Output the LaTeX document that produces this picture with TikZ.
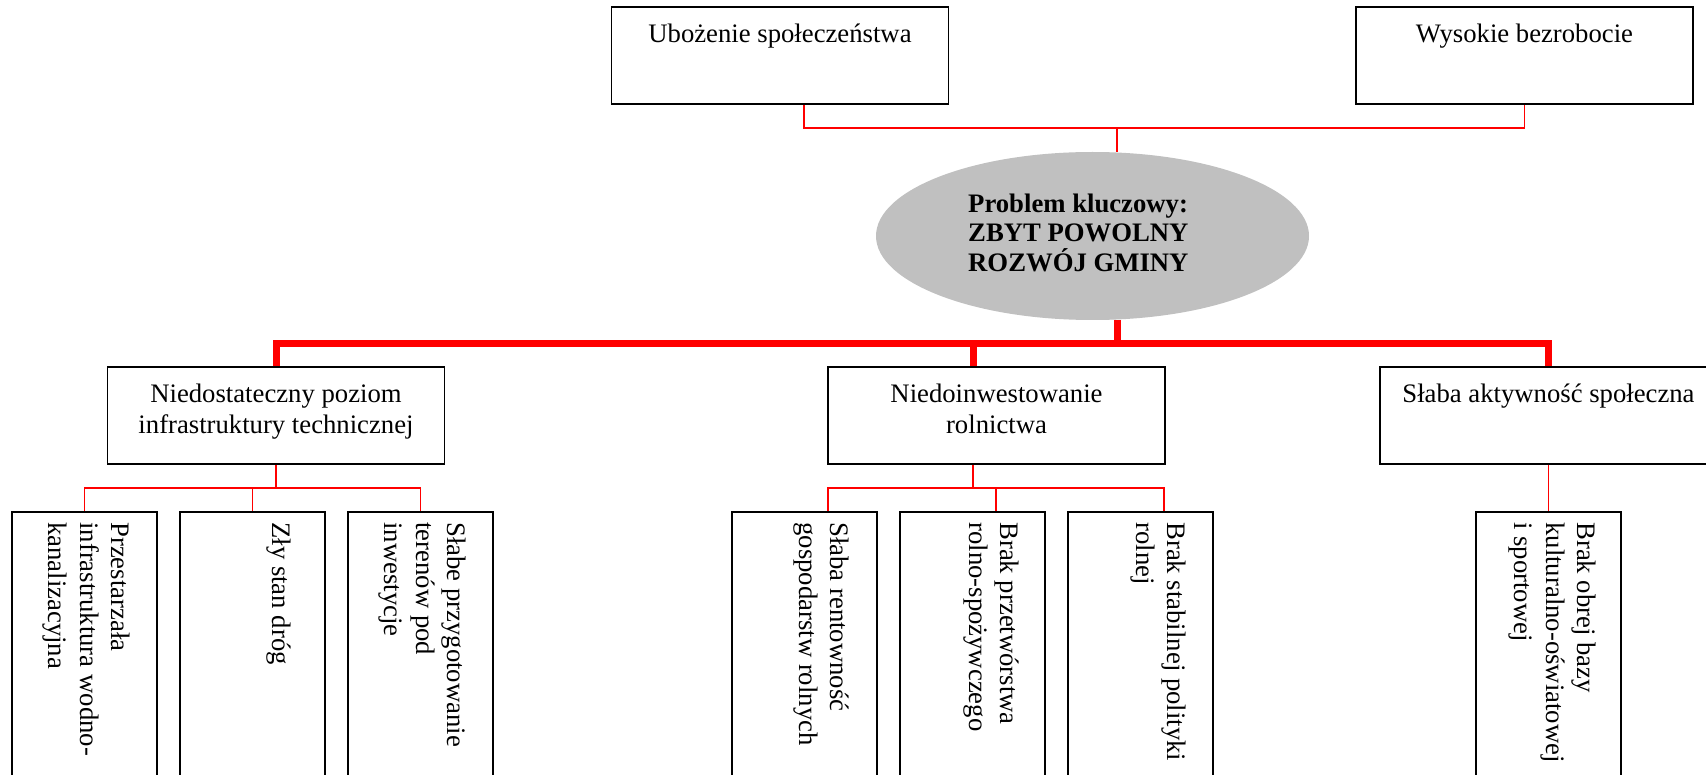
\documentclass[tikz,border=0pt]{standalone}
\usepackage{fontspec}
\setmainfont{Liberation Serif}
\usetikzlibrary{shapes.geometric}
\definecolor{keygray}{HTML}{C0C0C0}
\definecolor{lnred}{HTML}{FF0000}
\newcommand\tstr{\rule{0pt}{20pt}}
\begin{document}
\begin{tikzpicture}[x=1pt,y=-1pt,
  box/.style={draw=black, line width=1.6pt, rectangle, inner sep=0pt, fill=white},
  topbox/.style={box, minimum width=337pt, minimum height=97pt},
  leafbox/.style={box, minimum width=145pt, minimum height=290pt},
  htxt/.style={inner sep=0pt, align=center, anchor=north, font=\fontsize{26.7}{30.7}\selectfont},
  vtxt/.style={inner sep=0pt, align=left, rotate=-90, anchor=north west, font=\fontsize{26.7}{31.5}\selectfont},
  redthin/.style={draw=lnred, line width=1.6pt},
  redthick/.style={draw=lnred, line width=7pt}
]
\useasboundingbox (0,0) rectangle (1706,775);
\clip (0,0) rectangle (1706,775);
\fill[white] (0,0) rectangle (1706,775);

% boxes
\node[topbox] (top1) at (780,55.5) {};
\node[topbox] (top2) at (1524.5,55.5) {};
\node[ellipse, fill=keygray, minimum width=433pt, minimum height=168pt, inner sep=0pt] (key) at (1092.5,236) {};
\node[topbox] (A) at (276,415.5) {};
\node[topbox] (B) at (996.5,415.5) {};
\node[topbox] (C) at (1548.5,415.5) {};
\node[leafbox] (A1) at (84.5,657) {};
\node[leafbox] (A2) at (252.5,657) {};
\node[leafbox] (A3) at (420.5,657) {};
\node[leafbox] (B1) at (804.5,657) {};
\node[leafbox] (B2) at (972.5,657) {};
\node[leafbox] (B3) at (1140.5,657) {};
\node[leafbox] (C1) at (1548.5,657) {};

% connectors
\coordinate (jt) at (1117,128);
\draw[redthin] ([xshift=24pt]top1.south) |- (jt) -| (top2.south);
\draw[redthin] (jt) -- (jt |- key.north);

\coordinate (jk) at (1117,344);
\draw[redthick] (jt |- key.south) -- (jk);
\draw[redthick] (A.north) |- (jk) -| (C.north);
\draw[redthick] ([xshift=-23.5pt]B.north) -- ++(0,-23);

\coordinate (ja) at (276,488);
\draw[redthin] (A.south) -- (ja);
\draw[redthin] (A1.north) |- (ja) -| (A3.north);
\draw[redthin] (A2.north) -- ++(0,-24);

\coordinate (jb) at (973,488);
\draw[redthin] ([xshift=-23.5pt]B.south) -- (jb);
\draw[redthin] ([xshift=23.5pt]B1.north) |- (jb) -| ([xshift=23.5pt]B3.north);
\draw[redthin] ([xshift=23.5pt]B2.north) -- ++(0,-24);

\draw[redthin] (C.south) -- (C1.north);

% texts
\node[htxt] at ([yshift=-16pt]top1.north) {\tstr Ubożenie społeczeństwa};
\node[htxt] at ([yshift=-16pt]top2.north) {\tstr Wysokie bezrobocie};
\node[inner sep=0pt, align=left, anchor=north west, font=\fontsize{26.7}{29.5}\selectfont\bfseries]
  at ([xshift=-124.5pt,yshift=44pt]key.center) {\tstr Problem kluczowy:\\ZBYT POWOLNY\\ROZWÓJ GMINY};
\node[htxt] at ([yshift=-16pt]A.north) {\tstr Niedostateczny poziom\\infrastruktury technicznej};
\node[htxt] at ([yshift=-16pt]B.north) {\tstr Niedoinwestowanie\\rolnictwa};
\node[htxt] at ([yshift=-16pt]C.north) {\tstr Słaba aktywność społeczna};

\node[vtxt] at ([xshift=-26pt,yshift=-11pt]A1.north east) {\tstr Przestarzała\\infrastruktura wodno-\\kanalizacyjna};
\node[vtxt] at ([xshift=-33pt,yshift=-11pt]A2.north east) {\tstr Zły stan dróg};
\node[vtxt] at ([xshift=-26pt,yshift=-11pt]A3.north east) {\tstr Słabe przygotowanie\\terenów pod\\inwestycje};
\node[vtxt] at ([xshift=-27pt,yshift=-11pt]B1.north east) {\tstr Słaba rentowność\\gospodarstw rolnych};
\node[vtxt] at ([xshift=-25pt,yshift=-11pt]B2.north east) {\tstr Brak przetwórstwa\\rolno-spożywczego};
\node[vtxt] at ([xshift=-26pt,yshift=-11pt]B3.north east) {\tstr Brak stabilnej polityki\\rolnej};
\node[vtxt] at ([xshift=-24pt,yshift=-11pt]C1.north east) {\tstr Brak obrej bazy\\kulturalno-oświatowej\\i sportowej};
\end{tikzpicture}
\end{document}
